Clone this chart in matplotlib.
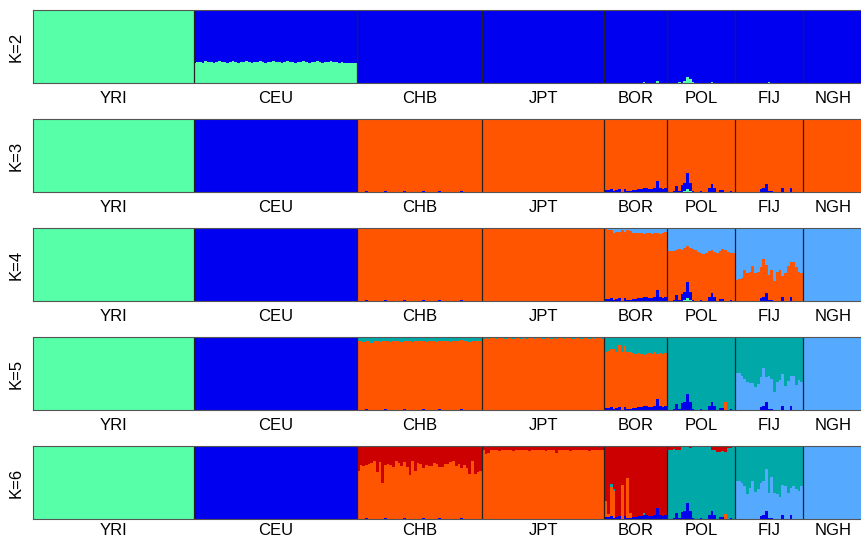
import matplotlib.pyplot as plt
import numpy as np

plt.rcParams['font.family'] = ['Liberation Sans', 'DejaVu Sans']

populations = ['YRI', 'CEU', 'CHB', 'JPT', 'BOR', 'POL', 'FIJ', 'NGH']
sample_sizes = [59, 60, 46, 45, 23, 25, 25, 22]
k_values = [2, 3, 4, 5, 6]
# cluster order: green, blue, orange, light blue, teal, red
cluster_colors = ['#57FFA9', '#0000F0', '#FF5500', '#55AAFF', '#00A8A8', '#CC0000']

# cluster that takes up the rest of each bar, per K and population
main_cluster = {
    2: [0, 1, 1, 1, 1, 1, 1, 1],
    3: [0, 1, 2, 2, 2, 2, 2, 2],
    4: [0, 1, 2, 2, 2, 2, 2, 3],
    5: [0, 1, 2, 2, 2, 4, 4, 3],
    6: [0, 1, 5, 2, 5, 4, 4, 3],
}

# K=2
k2_ceu_green = [0.28, 0.29, 0.29, 0.28, 0.30, 0.29, 0.29, 0.28, 0.29, 0.30,
                0.29, 0.29, 0.28, 0.29, 0.30, 0.29, 0.28, 0.29, 0.29, 0.30,
                0.29, 0.28, 0.29, 0.29, 0.30, 0.29, 0.28, 0.29, 0.29, 0.30,
                0.29, 0.29, 0.28, 0.29, 0.30, 0.29, 0.29, 0.28, 0.29, 0.29,
                0.30, 0.29, 0.28, 0.29, 0.29, 0.30, 0.29, 0.28, 0.29, 0.29,
                0.30, 0.29, 0.29, 0.28, 0.29, 0.28, 0.28, 0.27, 0.27, 0.27]
k2_bor_green = [0, 0, 0, 0, 0, 0, 0, 0, 0, 0, 0, 0, 0, 0, 0.015, 0, 0, 0, 0, 0.03,
                0, 0, 0]
k2_pol_green = [0, 0, 0, 0, 0.01, 0, 0.03, 0.08, 0.05, 0.01, 0, 0, 0, 0, 0, 0,
                0.015, 0, 0, 0, 0, 0, 0, 0, 0]
k2_fij_green = [0, 0, 0, 0, 0, 0, 0, 0, 0, 0, 0, 0, 0.015, 0, 0, 0, 0, 0, 0, 0,
                0, 0, 0, 0, 0]

# small blue / green bits seen from K=3 on
chb_blue_bits = [0, 0, 0, 0.02, 0, 0, 0, 0, 0, 0, 0.01, 0, 0, 0, 0, 0, 0, 0.015, 0, 0,
                 0, 0, 0, 0, 0.02, 0, 0, 0, 0, 0, 0.01, 0, 0, 0, 0, 0, 0, 0, 0.02, 0,
                 0, 0, 0, 0, 0, 0]
bor_blue = [0.03, 0.03, 0.04, 0.02, 0.03, 0.04, 0.00, 0.04, 0.01, 0.02,
            0.03, 0.03, 0.04, 0.04, 0.05, 0.05, 0.04, 0.04, 0.05, 0.15,
            0.05, 0.04, 0.05]
pol_green = [0, 0, 0, 0, 0, 0, 0.02, 0.04, 0.02, 0, 0, 0, 0, 0, 0, 0, 0, 0, 0, 0,
             0, 0, 0, 0, 0]
pol_blue = [0.00, 0.00, 0.01, 0.08, 0.02, 0.10, 0.11, 0.22, 0.11, 0.02,
            0.00, 0.00, 0.01, 0.00, 0.00, 0.05, 0.11, 0.06, 0.00, 0.03,
            0.03, 0.00, 0.00, 0.01, 0.00]
fij_blue = [0, 0, 0, 0, 0, 0, 0, 0, 0, 0.04, 0.05, 0.11, 0.02, 0.02, 0, 0, 0, 0.05,
            0, 0, 0.05, 0, 0, 0, 0]

# K=4
k4_bor_ltblue = [0.02, 0.03, 0.03, 0.07, 0.05, 0.06, 0.03, 0.06, 0.03, 0.04,
                 0.07, 0.07, 0.07, 0.07, 0.08, 0.07, 0.07, 0.08, 0.07, 0.07,
                 0.08, 0.07, 0.06]
k4_pol_ltblue = [0.32, 0.32, 0.31, 0.30, 0.29, 0.30, 0.28, 0.24, 0.28, 0.29,
                 0.30, 0.33, 0.34, 0.35, 0.34, 0.31, 0.30, 0.33, 0.34, 0.32,
                 0.29, 0.30, 0.33, 0.34, 0.34]
k4_fij_ltblue = [0.71, 0.70, 0.68, 0.58, 0.62, 0.60, 0.52, 0.61, 0.60, 0.54,
                 0.43, 0.50, 0.64, 0.57, 0.73, 0.60, 0.58, 0.66, 0.62, 0.52,
                 0.46, 0.47, 0.53, 0.60, 0.62]

# K=5
k5_chb_teal = [0.06, 0.05, 0.07, 0.05, 0.06, 0.08, 0.05, 0.06, 0.07, 0.05,
               0.06, 0.05, 0.07, 0.06, 0.05, 0.06, 0.07, 0.05, 0.06, 0.05,
               0.07, 0.06, 0.05, 0.06, 0.05, 0.07, 0.06, 0.05, 0.06, 0.07,
               0.05, 0.06, 0.05, 0.06, 0.07, 0.05, 0.06, 0.05, 0.04, 0.06,
               0.05, 0.07, 0.05, 0.06, 0.05, 0.06]
k5_jpt_teal = [0.03, 0.02, 0.03, 0.02, 0.02, 0.03, 0.02, 0.02, 0.03, 0.02,
               0.02, 0.03, 0.02, 0.02, 0.03, 0.02, 0.03, 0.02, 0.02, 0.03,
               0.02, 0.02, 0.03, 0.02, 0.02, 0.03, 0.02, 0.03, 0.02, 0.02,
               0.03, 0.02, 0.02, 0.03, 0.02, 0.02, 0.03, 0.02, 0.02, 0.03,
               0.02, 0.03, 0.02, 0.02, 0.03]
k5_bor_teal = [0.20, 0.19, 0.16, 0.17, 0.20, 0.11, 0.21, 0.12, 0.20, 0.21,
               0.22, 0.23, 0.22, 0.23, 0.24, 0.23, 0.22, 0.23, 0.20, 0.23,
               0.22, 0.23, 0.22]
k5_pol_orange = [0, 0, 0, 0, 0, 0, 0, 0, 0, 0, 0, 0, 0, 0, 0, 0, 0, 0, 0, 0,
                 0, 0.11, 0, 0, 0]
k5_fij_ltblue = [0.51, 0.51, 0.46, 0.42, 0.39, 0.37, 0.37, 0.32, 0.36, 0.41,
                 0.52, 0.34, 0.44, 0.40, 0.25, 0.38, 0.41, 0.44, 0.33, 0.40,
                 0.41, 0.47, 0.34, 0.41, 0.38]

# K=6
k6_chb_orange = [0.66, 0.74, 0.72, 0.72, 0.76, 0.77, 0.79, 0.64, 0.78, 0.50,
                 0.73, 0.75, 0.74, 0.71, 0.79, 0.77, 0.73, 0.77, 0.71, 0.60,
                 0.79, 0.66, 0.77, 0.76, 0.68, 0.74, 0.73, 0.72, 0.77, 0.75,
                 0.70, 0.71, 0.76, 0.75, 0.78, 0.79, 0.73, 0.76, 0.68, 0.74,
                 0.70, 0.62, 0.79, 0.61, 0.64, 0.66]
k6_jpt_red = [0.06, 0.11, 0.10, 0.06, 0.05, 0.06, 0.07, 0.05, 0.06, 0.05,
              0.06, 0.07, 0.05, 0.06, 0.05, 0.06, 0.05, 0.07, 0.06, 0.05,
              0.06, 0.05, 0.06, 0.07, 0.05, 0.06, 0.05, 0.10, 0.06, 0.05,
              0.06, 0.05, 0.07, 0.06, 0.05, 0.06, 0.05, 0.06, 0.05, 0.07,
              0.06, 0.05, 0.06, 0.05, 0.06]
k6_bor_orange = [0.22, 0.04, 0.40, 0.36, 0, 0, 0.47, 0, 0.55, 0.06,
                 0, 0, 0, 0, 0, 0, 0, 0, 0, 0, 0, 0, 0]
k6_bor_teal = [0, 0, 0.04, 0.03, 0, 0, 0, 0, 0, 0, 0, 0, 0, 0, 0.03, 0, 0, 0, 0, 0,
               0, 0, 0]
k6_pol_red = [0.05, 0.05, 0.04, 0.05, 0.05, 0.02, 0.02, 0.02, 0.03, 0.02,
              0.02, 0.02, 0.01, 0.01, 0.01, 0.01, 0.06, 0.05, 0.08, 0.08,
              0.07, 0.08, 0.03, 0.03, 0.02]
k6_pol_orange = [0, 0, 0, 0, 0, 0, 0, 0, 0, 0, 0, 0, 0, 0, 0, 0, 0, 0, 0, 0,
                 0, 0.07, 0, 0, 0]
k6_fij_ltblue = [0.52, 0.52, 0.50, 0.45, 0.34, 0.43, 0.52, 0.37, 0.41, 0.45,
                 0.47, 0.57, 0.34, 0.56, 0.36, 0.34, 0.30, 0.41, 0.45, 0.35,
                 0.38, 0.45, 0.41, 0.39, 0.45]

admixture = [
    (2, 'CEU', 0, k2_ceu_green), (2, 'BOR', 0, k2_bor_green),
    (2, 'POL', 0, k2_pol_green), (2, 'FIJ', 0, k2_fij_green),
    (3, 'POL', 0, pol_green), (4, 'POL', 0, pol_green),
    (4, 'BOR', 3, k4_bor_ltblue), (4, 'POL', 3, k4_pol_ltblue),
    (4, 'FIJ', 3, k4_fij_ltblue),
    (5, 'CHB', 4, k5_chb_teal), (5, 'JPT', 4, k5_jpt_teal),
    (5, 'BOR', 4, k5_bor_teal), (5, 'POL', 2, k5_pol_orange),
    (5, 'FIJ', 3, k5_fij_ltblue),
    (6, 'CHB', 2, k6_chb_orange), (6, 'JPT', 5, k6_jpt_red),
    (6, 'BOR', 2, k6_bor_orange), (6, 'BOR', 4, k6_bor_teal),
    (6, 'POL', 5, k6_pol_red), (6, 'POL', 2, k6_pol_orange),
    (6, 'FIJ', 3, k6_fij_ltblue),
]
for k in (3, 4, 5, 6):
    admixture += [(k, 'CHB', 1, chb_blue_bits), (k, 'BOR', 1, bor_blue),
                  (k, 'POL', 1, pol_blue), (k, 'FIJ', 1, fij_blue)]

starts = np.concatenate([[0], np.cumsum(sample_sizes)])
n_total = starts[-1]


def q_matrix(k):
    q = np.zeros((n_total, len(cluster_colors)))
    for kk, pop, c, vals in admixture:
        if kk == k:
            i = populations.index(pop)
            q[starts[i]:starts[i + 1], c] += np.asarray(vals)
    for i, m in enumerate(main_cluster[k]):
        sl = slice(starts[i], starts[i + 1])
        q[sl, m] = 1 - q[sl].sum(axis=1)
    return q


fig = plt.figure(figsize=(8.62, 5.44), dpi=100)
W, H = 862, 544
left_px, top_px, panel_h = 33, [10, 119, 228, 337, 446], 73
label_pad = [6, 6, 6, 6, 3]
x = np.arange(n_total)
centers = (starts[:-1] + starts[1:]) / 2

for k, top, pad in zip(k_values, top_px, label_pad):
    ax = fig.add_axes([left_px / W, 1 - (top + panel_h) / H,
                       (W - left_px + 1) / W, panel_h / H])
    q = q_matrix(k)
    bottom = np.zeros(n_total)
    for c, color in enumerate(cluster_colors):
        if q[:, c].any():
            ax.bar(x, q[:, c], bottom=bottom, width=1.0, align='edge',
                   color=color, linewidth=0, antialiased=False)
            bottom += q[:, c]
    for b in starts[1:-1]:
        ax.axvline(b, color='#222222', lw=0.9)
    ax.set_xlim(0, n_total)
    ax.set_ylim(0, 1)
    ax.set_yticks([])
    ax.set_xticks(centers)
    ax.set_xticklabels(populations, fontsize=12)
    ax.tick_params(axis='x', length=0, pad=pad)
    ax.set_ylabel('K=%d' % k, fontsize=12, labelpad=7)
    for s in ax.spines.values():
        s.set_color('#555555')
        s.set_linewidth(0.8)

plt.savefig('out.png', dpi=100)
